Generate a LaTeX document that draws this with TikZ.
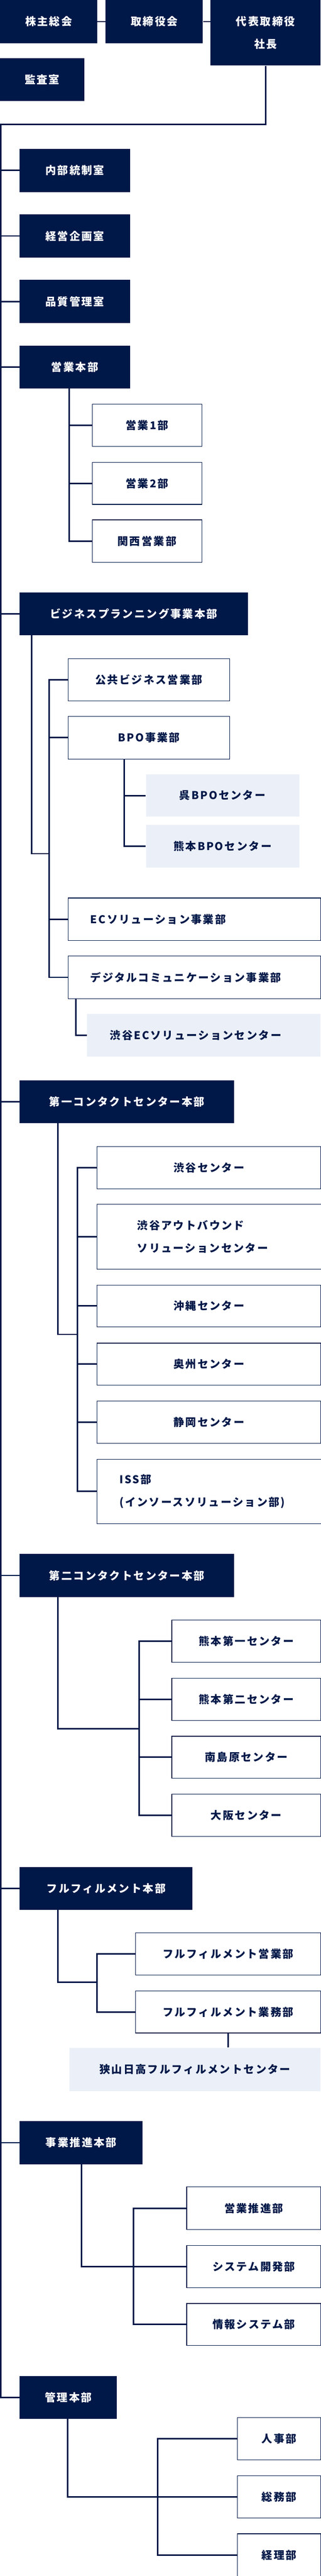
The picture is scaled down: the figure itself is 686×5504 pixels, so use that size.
\documentclass[tikz,border=0pt]{standalone}
\usepackage{fontspec}
\setmainfont{Noto Sans CJK JP}[LetterSpace=12]
\definecolor{navy}{HTML}{001848}
\definecolor{pale}{HTML}{EBF0F8}
\begin{document}
\begin{tikzpicture}[x=1pt, y=-1pt
        , every node/.style={anchor=north west, inner sep=0pt, align=center
            , font=\fontsize{23}{48}\selectfont\bfseries}
        , head/.style={fill=navy, text=white}
        , unit/.style={draw=navy, line width=1.3pt, fill=white, text=navy}
        , centre/.style={fill=pale, text=navy}
        , link/.style={draw=navy, line width=3.2pt}
    ]
    \useasboundingbox (0,0) rectangle (686,5504);

    %% top of the chart
    \node[head, minimum width=208pt, minimum height=92pt] (kabu) at (0,0) {株主総会};
    \node[head, minimum width=208pt, minimum height=92pt] (tori) at (226,0) {取締役会};
    \node[head, minimum width=236pt, minimum height=140pt] (ceo) at (450,0) {代表取締役\\社長};
    \node[head, minimum width=180pt, minimum height=92pt] (kansa) at (0,124) {監査室};

    \draw[link] (kabu.east) -- (tori.west);
    \draw[link] (tori.east) -- (tori.east -| ceo.west);

    % offices under the president
    \node[head, minimum width=236pt, minimum height=92pt] (naibu) at (42,318) {内部統制室};
    \node[head, minimum width=236pt, minimum height=92pt] (keiei) at (42,458) {経営企画室};
    \node[head, minimum width=236pt, minimum height=92pt] (hinshitsu) at (42,598) {品質管理室};

    % sales
    \node[head, minimum width=236pt, minimum height=92pt] (eigyo) at (42,738) {営業本部};
    \node[unit, minimum width=234pt, minimum height=90pt] (eigyoA) at (197,863) {営業1部};
    \node[unit, minimum width=234pt, minimum height=90pt] (eigyoB) at (197,987) {営業2部};
    \node[unit, minimum width=234pt, minimum height=91pt] (kansai) at (197,1110) {関西営業部};

    \draw[link] (148,0 |- eigyo.south) |- (kansai.west);
    \draw[link] (148,0 |- eigyoA.west) -- (eigyoA.west);
    \draw[link] (148,0 |- eigyoB.west) -- (eigyoB.west);

    % business planning
    \node[head, minimum width=488pt, minimum height=91pt] (bp) at (42,1266) {ビジネスプランニング事業本部};
    \node[unit, minimum width=346pt, minimum height=90pt] (kokyo) at (145,1407) {公共ビジネス営業部};
    \node[unit, minimum width=346pt, minimum height=91pt] (bpo) at (145,1530) {BPO事業部};
    \node[centre, minimum width=328pt, minimum height=91pt] (kure) at (312,1654) {呉BPOセンター};
    \node[centre, minimum width=328pt, minimum height=91pt] (kumabpo) at (312,1762) {熊本BPOセンター};
    \node[unit, minimum height=91pt, text width=445pt, align=left, inner xsep=48pt] (ec) at (145,1918) {ECソリューション事業部};
    \node[unit, minimum height=91pt, text width=445pt, align=left, inner xsep=48pt] (digital) at (145,2042) {デジタルコミュニケーション事業部};
    \node[centre, minimum height=91pt, text width=402pt, align=left, inner xsep=49pt] (shibuec) at (186,2166) {渋谷ECソリューションセンター};

    \draw[link] (68,0 |- bp.south) |- (105,1824);
    \draw[link] (kokyo.west) -- (105,0 |- kokyo.west) |- (digital.west);
    \draw[link] (105,0 |- bpo.west) -- (bpo.west);
    \draw[link] (105,0 |- ec.west) -- (ec.west);
    \draw[link] (266,0 |- bpo.south) |- (kumabpo.west);
    \draw[link] (266,0 |- kure.west) -- (kure.west);
    \draw[link] (162,0 |- digital.south) |- (shibuec.west);

    % first contact centre
    \node[head, minimum width=459pt, minimum height=91pt] (ccA) at (42,2308) {第一コンタクトセンター本部};
    \node[unit, minimum width=479pt, minimum height=90pt] (shibuya) at (207,2449) {渋谷センター};
    \node[unit, minimum height=139pt, text width=391pt, align=left, inner xsep=86pt] (outbound) at (207,2572) {渋谷アウトバウンド\\ソリューションセンター};
    \node[unit, minimum width=479pt, minimum height=89pt] (okinawa) at (207,2745) {沖縄センター};
    \node[unit, minimum width=479pt, minimum height=90pt] (oshu) at (207,2869) {奥州センター};
    \node[unit, minimum width=479pt, minimum height=90pt] (shizuoka) at (207,2993) {静岡センター};
    \node[unit, minimum height=138pt, text width=431pt, align=left, inner xsep=48pt] (iss) at (207,3117) {ISS部\\(インソースソリューション部)};

    \draw[link] (124,0 |- ccA.south) |- (166,2851);
    \draw[link] (shibuya.west) -- (166,0 |- shibuya.west) |- (iss.west);
    \foreach \n in {outbound, okinawa, oshu, shizuoka}
        \draw[link] (166,0 |- \n.west) -- (\n.west);

    % second contact centre
    \node[head, minimum width=459pt, minimum height=92pt] (ccB) at (42,3320) {第二コンタクトセンター本部};
    \node[unit, minimum width=319pt, minimum height=90pt] (kumaA) at (367,3461) {熊本第一センター};
    \node[unit, minimum width=319pt, minimum height=90pt] (kumaB) at (367,3585) {熊本第二センター};
    \node[unit, minimum width=319pt, minimum height=90pt] (minami) at (367,3709) {南島原センター};
    \node[unit, minimum width=319pt, minimum height=90pt] (osaka) at (367,3833) {大阪センター};

    \draw[link] (124,0 |- ccB.south) |- (298,3694);
    \draw[link] (kumaA.west) -- (298,0 |- kumaA.west) |- (osaka.west);
    \draw[link] (298,0 |- kumaB.west) -- (kumaB.west);
    \draw[link] (298,0 |- minami.west) -- (minami.west);

    % fulfilment
    \node[head, minimum width=370pt, minimum height=91pt] (ful) at (42,3989) {フルフィルメント本部};
    \node[unit, minimum width=397pt, minimum height=90pt] (fsales) at (289,4129) {フルフィルメント営業部};
    \node[unit, minimum width=397pt, minimum height=90pt] (fops) at (289,4253) {フルフィルメント業務部};
    \node[centre, minimum width=538pt, minimum height=93pt] (sayama) at (148,4375) {狭山日高フルフィルメントセンター};

    \draw[link] (124,0 |- ful.south) |- (207,4235);
    \draw[link] (fsales.west) -- (207,0 |- fsales.west) |- (fops.west);
    \draw[link] (fops.south) -- (fops.south |- sayama.north);

    % business promotion
    \node[head, minimum width=263pt, minimum height=92pt] (jigyo) at (42,4532) {事業推進本部};
    \node[unit, minimum width=287pt, minimum height=91pt] (suishin) at (399,4672) {営業推進部};
    \node[unit, minimum width=287pt, minimum height=90pt] (sysdev) at (399,4797) {システム開発部};
    \node[unit, minimum width=287pt, minimum height=90pt] (joho) at (399,4921) {情報システム部};

    \draw[link] (174,0 |- jigyo.south) |- (sysdev.west);
    \draw[link] (suishin.west) -- (286,0 |- suishin.west) |- (joho.west);

    % administration
    \node[head, minimum width=208pt, minimum height=91pt] (kanri) at (42,5077) {管理本部};
    \node[unit, minimum width=179pt, minimum height=90pt] (jinji) at (507,5165) {人事部};
    \node[unit, minimum width=179pt, minimum height=90pt] (somu) at (507,5289) {総務部};
    \node[unit, minimum width=179pt, minimum height=91pt] (keiri) at (507,5413) {経理部};

    \draw[link] (145,0 |- kanri.south) |- (somu.west);
    \draw[link] (jinji.west) -- (337,0 |- jinji.west) |- (keiri.west);

    % main line down the left edge
    \draw[link] (ceo.south) -- (ceo.south |- 0,266) -- (2,266) |- (kanri.west);
    \foreach \n in {naibu, keiei, hinshitsu, eigyo, bp, ccA, ccB, ful, jigyo}
        \draw[link] (2,0 |- \n.west) -- (\n.west);
\end{tikzpicture}
\end{document}
